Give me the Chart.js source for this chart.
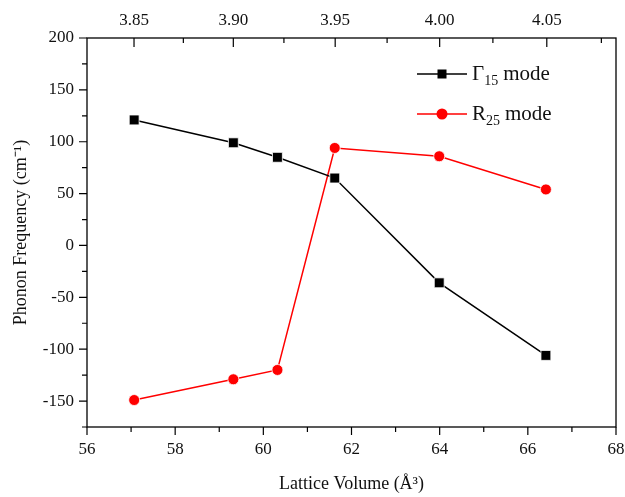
<!DOCTYPE html>
<html lang="en">
<head>
    <meta charset="UTF-8">
    <script src="https://cdn.jsdelivr.net/npm/chart.js"></script>
    <title>Phonon Frequency</title>
    <style>
        html, body { margin: 0; padding: 0; background: #fff; }
        #wrap { width: 625px; height: 497px; }
    </style>
</head>
<body>
    <div id="wrap"><canvas id="grafico"></canvas></div>

<script>
    // dados
    var volume = [57.07, 59.32, 60.32, 61.62, 63.99, 66.41];
    var gamma15 = [121, 99, 85, 65, -36, -106];
    var r25 = [-149, -129, -120, 94, 86, 54];

    var xTicks = [56, 58, 60, 62, 64, 66, 68];
    var xMinor = [57, 59, 61, 63, 65, 67];
    var yTicks = [-150, -100, -50, 0, 50, 100, 150, 200];
    var yMinor = [-175, -125, -75, -25, 25, 75, 125, 175];
    var topLabels = ['3.85', '3.90', '3.95', '4.00', '4.05'];
    var topMinor = ['3.875', '3.925', '3.975', '4.025', '4.075'];

    var fonte = 'Liberation Serif';

    function pontos(ys) {
        var out = [];
        for (var i = 0; i < volume.length; i++) {
            out.push({ x: volume[i], y: ys[i] });
        }
        return out;
    }

    function cubo(s) {
        var a = parseFloat(s);
        return a * a * a;
    }

    // moldura, tracinhos e legenda desenhados a mao
    var moldura = {
        id: 'moldura',
        afterDraw: function (chart) {
            var ctx = chart.ctx;
            var area = chart.chartArea;
            var sx = chart.scales.x;
            var st = chart.scales.xTop;
            var sy = chart.scales.y;
            ctx.save();
            ctx.strokeStyle = '#000';
            ctx.lineWidth = 1.3;
            ctx.strokeRect(area.left, area.top, area.right - area.left, area.bottom - area.top);

            ctx.lineWidth = 1.2;
            ctx.beginPath();
            xTicks.forEach(function (v) {
                var p = sx.getPixelForValue(v);
                ctx.moveTo(p, area.bottom); ctx.lineTo(p, area.bottom + 8);
            });
            xMinor.forEach(function (v) {
                var p = sx.getPixelForValue(v);
                ctx.moveTo(p, area.bottom); ctx.lineTo(p, area.bottom + 5);
            });
            topLabels.forEach(function (s) {
                var p = st.getPixelForValue(cubo(s));
                ctx.moveTo(p, area.top); ctx.lineTo(p, area.top + 9);
            });
            topMinor.forEach(function (s) {
                var p = st.getPixelForValue(cubo(s));
                ctx.moveTo(p, area.top); ctx.lineTo(p, area.top + 5);
            });
            yTicks.forEach(function (v) {
                var p = sy.getPixelForValue(v);
                ctx.moveTo(area.left, p); ctx.lineTo(area.left - 8, p);
            });
            yMinor.forEach(function (v) {
                var p = sy.getPixelForValue(v);
                ctx.moveTo(area.left, p); ctx.lineTo(area.left - 5, p);
            });
            ctx.stroke();

            // legenda
            var itens = [
                { ds: chart.data.datasets[0], base: '\u0393', sub: '15', y: area.top + 36 },
                { ds: chart.data.datasets[1], base: 'R', sub: '25', y: area.top + 76 }
            ];
            var x0 = area.left + 330;
            itens.forEach(function (it) {
                ctx.strokeStyle = it.ds.borderColor;
                ctx.fillStyle = it.ds.backgroundColor;
                ctx.lineWidth = 1.5;
                ctx.beginPath();
                ctx.moveTo(x0, it.y); ctx.lineTo(x0 + 50, it.y);
                ctx.stroke();
                if (it.ds.pointStyle === 'rect') {
                    ctx.fillRect(x0 + 25 - 4.5, it.y - 4.5, 9, 9);
                } else {
                    ctx.beginPath();
                    ctx.arc(x0 + 25, it.y, 5.5, 0, Math.PI * 2);
                    ctx.fill();
                }
                ctx.fillStyle = '#111';
                ctx.textBaseline = 'middle';
                ctx.textAlign = 'left';
                var tx = x0 + 55;
                ctx.font = '21px "' + fonte + '"';
                ctx.fillText(it.base, tx, it.y);
                tx += ctx.measureText(it.base).width;
                ctx.font = '14px "' + fonte + '"';
                ctx.fillText(it.sub, tx, it.y + 7);
                tx += ctx.measureText(it.sub).width + 5;
                ctx.font = '21px "' + fonte + '"';
                ctx.fillText('mode', tx, it.y);
            });
            ctx.restore();
        }
    };

    var dados = {
        datasets: [{
            label: '\u039315 mode',
            data: pontos(gamma15),
            borderColor: '#000000',
            backgroundColor: '#000000',
            pointStyle: 'rect',
            pointRadius: 7,
            pointBorderColor: '#ffffff',
            pointBorderWidth: 0.8,
            borderWidth: 1.5,
            showLine: true,
            xAxisID: 'x',
            yAxisID: 'y'
        },
        {
            label: 'R25 mode',
            data: pontos(r25),
            borderColor: '#ff0000',
            backgroundColor: '#ff0000',
            pointStyle: 'circle',
            pointRadius: 5.5,
            pointBorderColor: '#ffffff',
            pointBorderWidth: 0.8,
            borderWidth: 1.5,
            showLine: true,
            xAxisID: 'x',
            yAxisID: 'y'
        }]
    };

    function semFolga(s) {
        s.paddingLeft = 0;
        s.paddingRight = 0;
    }

    var config = {
        type: 'scatter',
        data: dados,
        options: {
            responsive: true,
            maintainAspectRatio: false,
            animation: false,
            layout: { padding: { top: 0, right: 9, bottom: 0, left: 0 } },
            plugins: {
                legend: { display: false },
                tooltip: { enabled: false }
            },
            scales: {
                x: {
                    type: 'linear',
                    position: 'bottom',
                    min: 56,
                    max: 68,
                    grid: { display: false, drawTicks: false },
                    border: { display: false },
                    afterBuildTicks: function (s) {
                        s.ticks = xTicks.map(function (v) { return { value: v }; });
                    },
                    afterFit: function (s) { s.height = 70; semFolga(s); },
                    ticks: {
                        autoSkip: false,
                        maxRotation: 0,
                        padding: 12,
                        color: '#111',
                        font: { family: fonte, size: 17 }
                    },
                    title: {
                        display: true,
                        text: 'Lattice Volume (\u00c5\u00b3)',
                        color: '#111',
                        padding: { top: 0, bottom: 2 },
                        font: { family: fonte, size: 18 }
                    }
                },
                xTop: {
                    type: 'linear',
                    position: 'top',
                    min: 56,
                    max: 68,
                    grid: { display: false, drawTicks: false },
                    border: { display: false },
                    afterBuildTicks: function (s) {
                        s.ticks = topLabels.map(function (t) { return { value: cubo(t) }; });
                    },
                    afterFit: function (s) { s.height = 38; semFolga(s); },
                    ticks: {
                        autoSkip: false,
                        maxRotation: 0,
                        padding: 7,
                        color: '#111',
                        font: { family: fonte, size: 17 },
                        callback: function (v, i) { return topLabels[i]; }
                    }
                },
                y: {
                    type: 'linear',
                    min: -175,
                    max: 200,
                    grid: { display: false, drawTicks: false },
                    border: { display: false },
                    afterBuildTicks: function (s) {
                        s.ticks = yTicks.map(function (v) { return { value: v }; });
                    },
                    afterFit: function (s) { s.width = 87; },
                    ticks: {
                        autoSkip: false,
                        padding: 13,
                        color: '#111',
                        font: { family: fonte, size: 17 }
                    },
                    title: {
                        display: true,
                        text: 'Phonon Frequency (cm\u207b\u00b9)',
                        color: '#111',
                        padding: { top: 10, bottom: 0 },
                        font: { family: fonte, size: 18 }
                    }
                }
            }
        },
        plugins: [moldura]
    };

    var grafico = new Chart(document.getElementById('grafico'), config);
</script>
</body>
</html>
